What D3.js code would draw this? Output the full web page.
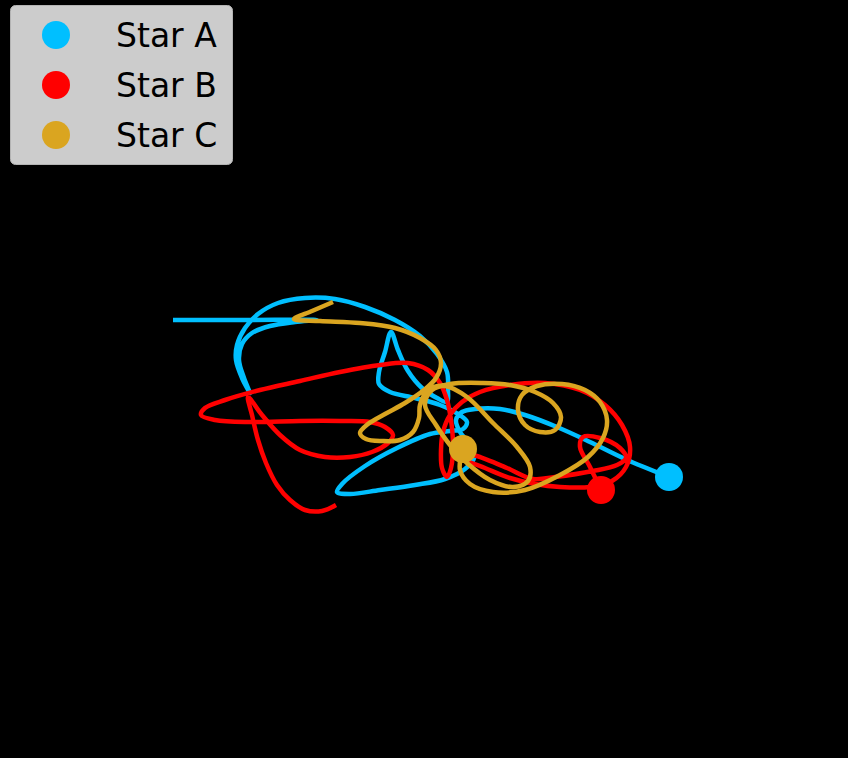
<!DOCTYPE html>
<html>
<head>
<meta charset="utf-8">
<script src="https://cdn.jsdelivr.net/npm/d3@7"></script>
<style>
html,body{margin:0;padding:0;background:#000;}
svg{display:block;}
</style>
</head>
<body>
<div id="chart"></div>
<script>
// Star names and colours
const stars = ["Star A", "Star B", "Star C"];
const colors = ["#00bfff", "#ff0000", "#daa520"];

// Traced trajectories (x, y in plot units; y grows downward)
const trailA = [
  [173,320],[245,320],[317,320],[295,322],[270,326],[252,333],[242,344],[239,360],[244,378],[250,393],
  [242,378],[236,360],[237,345],[245,328],[258,314],[278,303],[305,298],[335,299],[365,307],[395,320],
  [420,336],[437,354],[447,372],[448,390],[447,402],[437,398],[422,388],[408,371],[398,350],[391,332],
  [385,352],[379,372],[379,384],[390,392],[415,398],[440,405],[458,414],[467,422],[463,429],[450,431],
  [430,434],[397,448],[365,466],[342,484],[337,492],[350,494],[380,490],[415,485],[445,479],[465,469],
  [474,458],[470,445],[460,432],[456,420],[462,412],[475,409],[500,409],[525,415],[557,427],[590,442],
  [625,459],[669,477]
];
const trailB = [
  [336,505],[322,511],[305,510],[290,500],[277,485],[266,463],[258,440],[252,415],[248,397],[262,415],
  [280,435],[300,450],[325,457],[350,457],[372,452],[388,443],[393,435],[385,427],[370,422],[340,421],
  [300,421],[250,422],[215,420],[201,415],[205,408],[225,400],[260,390],[300,381],[340,372],[380,365],
  [408,363],[428,370],[440,383],[447,400],[451,420],[453,445],[451,468],[447,477],[442,468],[441,450],
  [443,432],[450,415],[462,402],[480,392],[510,385],[545,383],[580,390],[605,405],[622,425],[630,447],
  [626,467],[612,481],[590,487],[560,487],[535,484],[510,478],[485,468],[466,460],[462,455],[473,455],
  [507,468],[533,479],[555,477],[593,471],[617,465],[626,458],[620,448],[600,438],[583,437],[580,447],
  [590,467],[601,490]
];
const trailC = [
  [333,302],[312,311],[294,319],[320,321],[360,323],[395,328],[420,338],[436,350],[441,363],[436,378],
  [424,390],[405,403],[385,414],[368,424],[360,433],[366,439],[382,441],[400,440],[413,432],[419,418],
  [420,405],[428,390],[445,386],[467,397],[493,423],[517,447],[530,467],[528,481],[513,487],[490,480],
  [467,463],[450,445],[436,425],[425,405],[432,390],[450,384],[483,383],[510,385],[535,392],[553,403],
  [561,417],[555,430],[540,432],[525,425],[518,410],[522,395],[537,386],[562,384],[585,390],[600,402],
  [607,420],[603,438],[588,457],[560,475],[525,490],[493,492],[470,484],[460,470],[463,449]
];
const trails = [trailA, trailB, trailC];

const W = 848, H = 758;
const svg = d3.select("#chart").append("svg")
  .attr("width", W).attr("height", H)
  .style("background", "#000");

const x = d3.scaleLinear().domain([0, 848]).range([0, W]);
const y = d3.scaleLinear().domain([0, 758]).range([0, H]);

const line = d3.line()
  .x(d => x(d[0])).y(d => y(d[1]))
  .curve(d3.curveCatmullRom.alpha(0.5));

trails.forEach((t, i) => {
  svg.append("path")
    .attr("d", line(t))
    .attr("fill", "none")
    .attr("stroke", colors[i])
    .attr("stroke-width", 4.5)
    .attr("stroke-linejoin", "round")
    .attr("stroke-linecap", "butt");
});

trails.forEach((t, i) => {
  const last = t[t.length - 1];
  svg.append("circle")
    .attr("cx", x(last[0])).attr("cy", y(last[1]))
    .attr("r", 14)
    .attr("fill", colors[i]);
});

// Legend
const lg = svg.append("g");
lg.append("rect")
  .attr("x", 10.5).attr("y", 5.5).attr("width", 222).attr("height", 159)
  .attr("rx", 5).attr("ry", 5)
  .attr("fill", "#cccccc").attr("stroke", "#b3b3b3").attr("stroke-width", 1);
stars.forEach((s, i) => {
  lg.append("circle")
    .attr("cx", 56).attr("cy", 35 + i * 50).attr("r", 14)
    .attr("fill", colors[i]);
  lg.append("text")
    .attr("x", 116).attr("y", 35 + i * 50 + 12)
    .attr("font-family", "DejaVu Sans")
    .attr("font-size", 33)
    .attr("fill", "#000")
    .text(s);
});
</script>
</body>
</html>
